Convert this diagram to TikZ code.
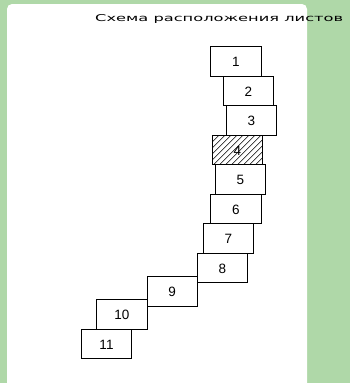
\documentclass[tikz,border=0pt]{standalone}
\usepackage{fontspec}
\setmainfont{Liberation Sans}
\newfontfamily\titlefont{DejaVu Sans}
\definecolor{bggreen}{RGB}{175,216,168}
\begin{document}
\begin{tikzpicture}[x=1pt,y=-1pt,
  sheet/.style={draw=black,line width=0.8pt,minimum width=50.4pt,minimum height=29.5pt,
    inner sep=0pt,outer sep=0pt,font=\fontsize{13.5}{14}\selectfont,text depth=0pt},
  hatch/.style={line width=0.6pt}]
\useasboundingbox (0,0) rectangle (350,383);
\fill[bggreen] (0,0) rectangle (350,383);
\fill[white,rounded corners=5pt] (7,390) -- (7,4) -- (307,4) -- (307,390);
\node[anchor=base west,inner sep=0pt] (title) at (95,21.5)
  {\resizebox{248pt}{7pt}{\titlefont Схема расположения листов}};
\newcommand{\sheetbox}[4]{\node[sheet] (#1) at ({#2+25.2},{#3+14.75}) {\raisebox{-1.5pt}{#4}};}
% hatched sheet 4
\begin{scope}
\clip (212.3,135.2) rectangle ++(50.4,29.5);
\foreach \i in {-30,-24,...,54} \draw[hatch] ({212.3+\i},166) -- ++(32,-32);
\end{scope}
\sheetbox{s1}{210.7}{46.7}{1}
\sheetbox{s2}{223.3}{76.2}{2}
\sheetbox{s3}{226.3}{105.7}{3}
\sheetbox{s4}{212.3}{135.2}{4}
\sheetbox{s5}{215.3}{164.7}{5}
\sheetbox{s6}{210.7}{194.2}{6}
\sheetbox{s7}{203.3}{223.7}{7}
\sheetbox{s8}{197.3}{253.2}{8}
\sheetbox{s9}{147.0}{276.7}{9}
\sheetbox{s10}{96.8}{299.5}{10}
\sheetbox{s11}{81.3}{329.0}{11}
\end{tikzpicture}
\end{document}
